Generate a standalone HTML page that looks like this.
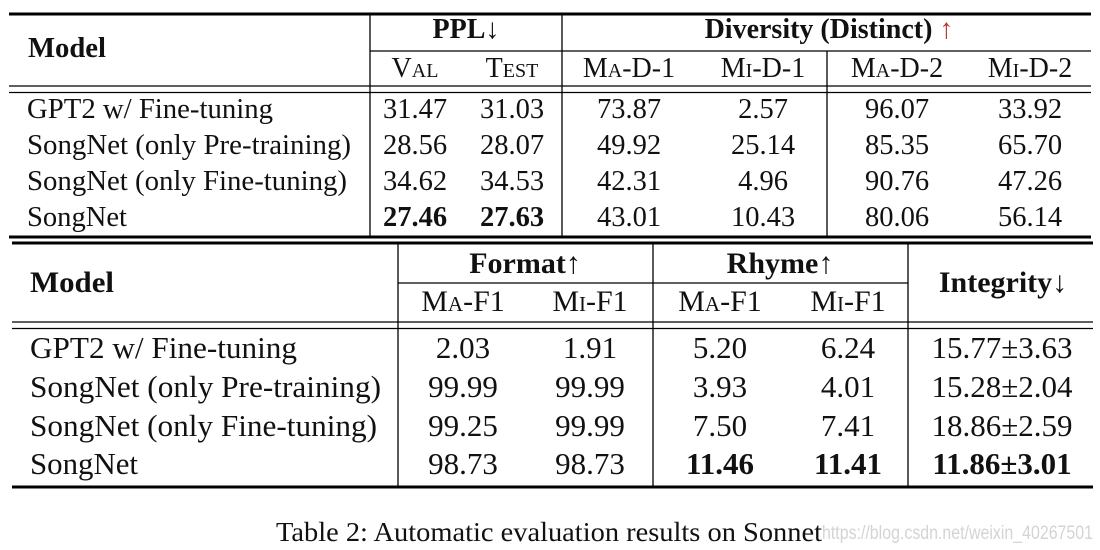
<!DOCTYPE html>
<html><head><meta charset="utf-8"><style>
html,body{margin:0;padding:0;background:#fff;}
svg{display:block;}
text{font-family:"Liberation Serif",serif;fill:#111;}
.b{font-weight:bold;}
.sc{font-variant:small-caps;}
</style></head><body>
<svg width="1100" height="550" viewBox="0 0 1100 550" xmlns="http://www.w3.org/2000/svg">
<g stroke="#000">
<line x1="9" y1="14" x2="1091" y2="14" stroke-width="3"/>
<line x1="370" y1="51" x2="562" y2="51" stroke-width="1.3"/>
<line x1="562" y1="51" x2="1091" y2="51" stroke-width="1.3"/>
<line x1="9" y1="86" x2="1091" y2="86" stroke-width="1.3"/>
<line x1="9" y1="92.5" x2="1091" y2="92.5" stroke-width="1.3"/>
<line x1="9" y1="237" x2="1091" y2="237" stroke-width="3"/>
<line x1="370" y1="15" x2="370" y2="236" stroke-width="1.3"/>
<line x1="562" y1="15" x2="562" y2="236" stroke-width="1.3"/>
<line x1="827" y1="51" x2="827" y2="236" stroke-width="1.3"/>

<line x1="12" y1="243" x2="1093" y2="243" stroke-width="3"/>
<line x1="398" y1="283" x2="653" y2="283" stroke-width="1.3"/>
<line x1="653" y1="283" x2="908" y2="283" stroke-width="1.3"/>
<line x1="12" y1="322" x2="1093" y2="322" stroke-width="1.3"/>
<line x1="12" y1="328.5" x2="1093" y2="328.5" stroke-width="1.3"/>
<line x1="12" y1="487" x2="1093" y2="487" stroke-width="3"/>
<line x1="398" y1="244" x2="398" y2="486" stroke-width="1.3"/>
<line x1="653" y1="244" x2="653" y2="486" stroke-width="1.3"/>
<line x1="908" y1="244" x2="908" y2="486" stroke-width="1.3"/>
</g>

<!-- top table -->
<g font-size="28">
<text x="28" y="57" class="b" textLength="78" lengthAdjust="spacingAndGlyphs">Model</text>
<text x="466" y="38" class="b" text-anchor="middle">PPL↓</text>
<text x="829" y="38" class="b" text-anchor="middle">Diversity (Distinct) <tspan style="font-weight:normal;fill:#b33">↑</tspan></text>
<text x="415" y="77" class="sc" text-anchor="middle">Val</text>
<text x="512" y="77" class="sc" text-anchor="middle">Test</text>
<text x="629" y="77" class="sc" text-anchor="middle">Ma-D-1</text>
<text x="763" y="77" class="sc" text-anchor="middle">Mi-D-1</text>
<text x="897" y="77" class="sc" text-anchor="middle">Ma-D-2</text>
<text x="1030" y="77" class="sc" text-anchor="middle">Mi-D-2</text>
</g>
<g font-size="28.5">
<text x="27" y="118" textLength="246" lengthAdjust="spacingAndGlyphs">GPT2 w/ Fine-tuning</text>
<text x="27" y="154" textLength="324" lengthAdjust="spacingAndGlyphs">SongNet (only Pre-training)</text>
<text x="27" y="190" textLength="320" lengthAdjust="spacingAndGlyphs">SongNet (only Fine-tuning)</text>
<text x="27" y="226" textLength="100" lengthAdjust="spacingAndGlyphs">SongNet</text>
<g text-anchor="middle">
<text x="415" y="118">31.47</text><text x="512" y="118">31.03</text><text x="629" y="118">73.87</text><text x="763" y="118">2.57</text><text x="897" y="118">96.07</text><text x="1030" y="118">33.92</text>
<text x="415" y="154">28.56</text><text x="512" y="154">28.07</text><text x="629" y="154">49.92</text><text x="763" y="154">25.14</text><text x="897" y="154">85.35</text><text x="1030" y="154">65.70</text>
<text x="415" y="190">34.62</text><text x="512" y="190">34.53</text><text x="629" y="190">42.31</text><text x="763" y="190">4.96</text><text x="897" y="190">90.76</text><text x="1030" y="190">47.26</text>
<text x="415" y="226" class="b">27.46</text><text x="512" y="226" class="b">27.63</text><text x="629" y="226">43.01</text><text x="763" y="226">10.43</text><text x="897" y="226">80.06</text><text x="1030" y="226">56.14</text>
</g>
</g>

<!-- bottom table -->
<g font-size="30">
<text x="30" y="292" class="b" textLength="84" lengthAdjust="spacingAndGlyphs">Model</text>
<text x="525" y="273" class="b" text-anchor="middle">Format↑</text>
<text x="780" y="273" class="b" text-anchor="middle">Rhyme↑</text>
<text x="1003" y="292" class="b" text-anchor="middle">Integrity↓</text>
<text x="463" y="311" class="sc" text-anchor="middle">Ma-F1</text>
<text x="590" y="311" class="sc" text-anchor="middle">Mi-F1</text>
<text x="720" y="311" class="sc" text-anchor="middle">Ma-F1</text>
<text x="848" y="311" class="sc" text-anchor="middle">Mi-F1</text>
</g>
<g font-size="31">
<text x="30" y="358" textLength="267" lengthAdjust="spacingAndGlyphs">GPT2 w/ Fine-tuning</text>
<text x="30" y="397" textLength="351" lengthAdjust="spacingAndGlyphs">SongNet (only Pre-training)</text>
<text x="30" y="436" textLength="347" lengthAdjust="spacingAndGlyphs">SongNet (only Fine-tuning)</text>
<text x="30" y="474" textLength="108" lengthAdjust="spacingAndGlyphs">SongNet</text>
<g text-anchor="middle">
<text x="463" y="358">2.03</text><text x="590" y="358">1.91</text><text x="720" y="358">5.20</text><text x="848" y="358">6.24</text><text x="1002" y="358">15.77±3.63</text>
<text x="463" y="397">99.99</text><text x="590" y="397">99.99</text><text x="720" y="397">3.93</text><text x="848" y="397">4.01</text><text x="1002" y="397">15.28±2.04</text>
<text x="463" y="436">99.25</text><text x="590" y="436">99.99</text><text x="720" y="436">7.50</text><text x="848" y="436">7.41</text><text x="1002" y="436">18.86±2.59</text>
<text x="463" y="474">98.73</text><text x="590" y="474">98.73</text><text x="720" y="474" class="b">11.46</text><text x="848" y="474" class="b">11.41</text><text x="1002" y="474" class="b">11.86±3.01</text>
</g>
</g>

<text x="276" y="541" font-size="27" textLength="546" lengthAdjust="spacingAndGlyphs">Table 2: Automatic evaluation results on Sonnet</text>
<text x="822" y="539" font-size="19" style="font-family:'Liberation Sans',sans-serif;fill:#d4d4d4" textLength="271" lengthAdjust="spacingAndGlyphs">https://blog.csdn.net/weixin_40267501</text>
</svg>
</body></html>
